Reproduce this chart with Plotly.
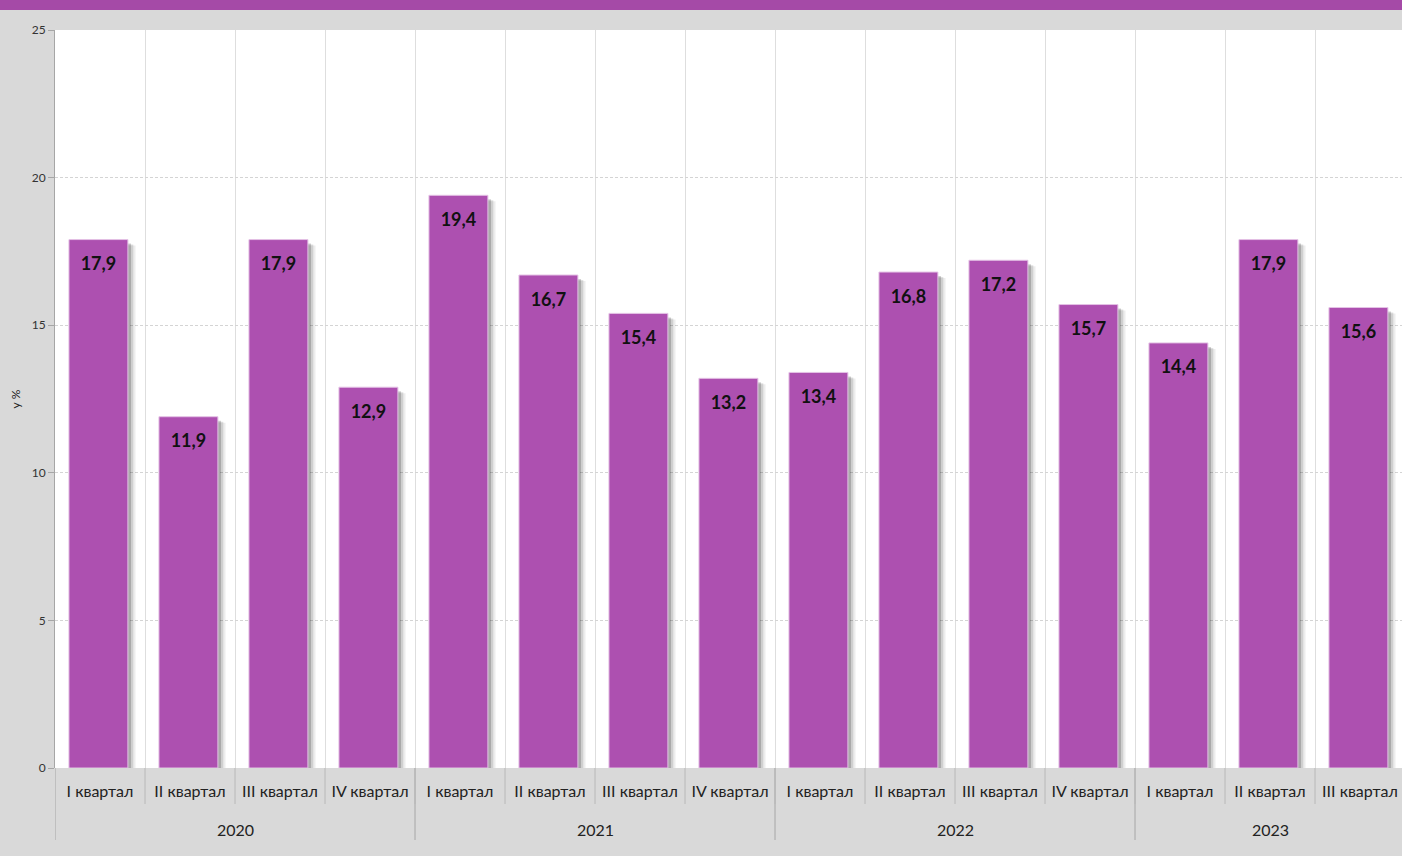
import plotly.graph_objects as go

years = ["2020"] * 4 + ["2021"] * 4 + ["2022"] * 4 + ["2023"] * 3
quarters = ["I квартал", "II квартал", "III квартал", "IV квартал"] * 3 + ["I квартал", "II квартал", "III квартал"]
values = [17.9, 11.9, 17.9, 12.9, 19.4, 16.7, 15.4, 13.2, 13.4, 16.8, 17.2, 15.7, 14.4, 17.9, 15.6]
labels = [f"{v:.1f}".replace(".", ",") for v in values]
y_ticks = [0, 5, 10, 15, 20, 25]

BAR = "#ad50b0"
AXC = "#a6a6a6"
FONT = "Lato"
n = len(values)
xs = list(range(n))

# plot-area geometry (pixels) used to convert pixel offsets
PLOT_H = 738
Y_MAX = 25
px_per_unit = PLOT_H / Y_MAX

BW = 0.655
OFF = -0.345

fig = go.Figure()
# soft shadow (layers)
fig.add_trace(go.Bar(
    x=xs, y=[v - 6 / px_per_unit for v in values], width=BW, offset=OFF + 0.085,
    marker=dict(color="rgba(0,0,0,0.07)", line=dict(width=0)),
    hoverinfo="skip", showlegend=False,
))
fig.add_trace(go.Bar(
    x=xs, y=[v - 5 / px_per_unit for v in values], width=BW, offset=OFF + 0.06,
    marker=dict(color="rgba(0,0,0,0.12)", line=dict(width=0)),
    hoverinfo="skip", showlegend=False,
))
fig.add_trace(go.Bar(
    x=xs, y=[v - 4 / px_per_unit for v in values], width=BW, offset=OFF + 0.035,
    marker=dict(color="rgba(0,0,0,0.18)", line=dict(width=0)),
    hoverinfo="skip", showlegend=False,
))
fig.add_trace(go.Bar(
    x=xs, y=values, width=BW, offset=OFF,
    marker=dict(color=BAR, line=dict(color="#e4c2e5", width=1)),
    showlegend=False,
))
# value labels inside bars, near the top
fig.add_trace(go.Scatter(
    x=[i + OFF + BW / 2 for i in xs], y=[v - 26 / px_per_unit for v in values],
    mode="text", text=labels, textposition="middle center",
    textfont=dict(family=FONT, size=18, color="#111111", weight="bold"),
    hoverinfo="skip", showlegend=False,
))

# year group labels and separators
groups = []
for i, yv in enumerate(years):
    if not groups or groups[-1][0] != yv:
        groups.append([yv, i, i])
    else:
        groups[-1][2] = i

annotations = []
shapes = [dict(type="rect", xref="paper", yref="paper", x0=-0.1, x1=1.1,
               y0=(PLOT_H + 20) / PLOT_H, y1=(PLOT_H + 31) / PLOT_H,
               fillcolor="#a54aa7", line=dict(width=0), layer="above")]
for yv, a, b in groups:
    annotations.append(dict(x=(a + b) / 2, y=-61 / PLOT_H, xref="x", yref="paper",
                            text=yv, showarrow=False, yanchor="middle",
                            font=dict(family=FONT, size=16, color="#222222")))
    shapes.append(dict(type="line", xref="x", yref="paper", x0=a - 0.5, x1=a - 0.5,
                       y0=0, y1=-72 / PLOT_H, line=dict(color=AXC, width=1)))
shapes.append(dict(type="line", xref="x", yref="paper", x0=n - 0.5, x1=n - 0.5,
                   y0=0, y1=-72 / PLOT_H, line=dict(color=AXC, width=1)))
# quarter separators below the axis
for i in range(n):
    shapes.append(dict(type="line", xref="x", yref="paper", x0=i + 0.5, x1=i + 0.5,
                       y0=0, y1=-36 / PLOT_H, line=dict(color="#b8b8b8", width=1)))

fig.update_layout(
    width=1402, height=856,
    barmode="overlay",
    paper_bgcolor="#d9d9d9",
    plot_bgcolor="#ffffff",
    margin=dict(l=55, r=0, t=30, b=88),
    font=dict(family=FONT, color="#222222"),
    annotations=annotations,
    shapes=shapes,
)
fig.update_xaxes(
    range=[-0.5, n - 0.5 - 3 / 90],
    tickmode="array", tickvals=xs, ticktext=quarters,
    ticks="", showgrid=False, zeroline=False, showline=False,
    ticklabelstandoff=12,
    tickfont=dict(family=FONT, size=16, color="#222222"),
    minor=dict(tickmode="linear", tick0=-0.5, dtick=1, showgrid=True,
               gridcolor="#dedede", gridwidth=1, ticks=""),
)
fig.update_yaxes(
    range=[0, Y_MAX], tickvals=y_ticks,
    showgrid=True, gridcolor="#d4d4d4", griddash="3px,2px", gridwidth=1,
    showline=True, linecolor=AXC, linewidth=1,
    ticks="outside", ticklen=6, tickcolor=AXC,
    tickfont=dict(family=FONT, size=12, color="#333333"),
    zeroline=False,
    title=dict(text="у %", font=dict(family=FONT, size=12, color="#222222"), standoff=8),
)

fig.write_html(
    "out.html",
    config={"displayModeBar": False},
    post_script="document.body.style.margin='0';document.body.style.padding='0';",
)
